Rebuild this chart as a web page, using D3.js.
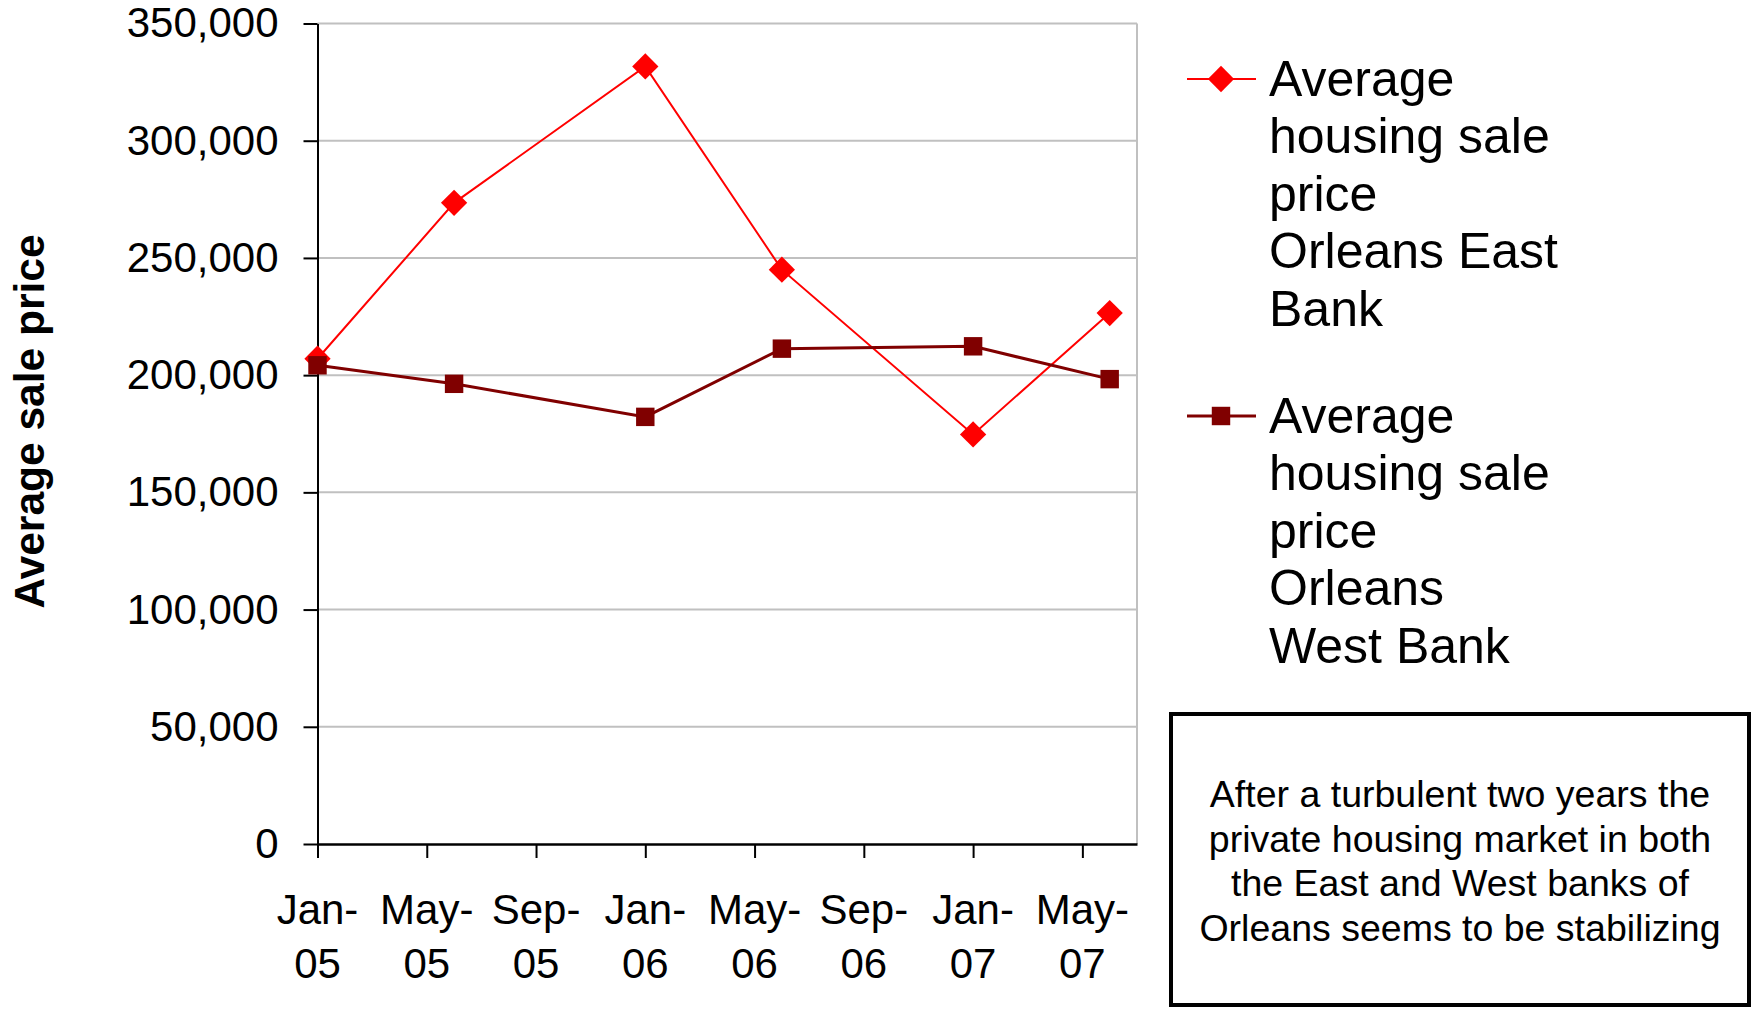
<!DOCTYPE html>
<html>
<head>
<meta charset="utf-8">
<script src="https://cdn.jsdelivr.net/npm/d3@7"></script>
<style>
  body { margin: 0; background: #fff; }
  text { font-family: "Liberation Sans", Arial, sans-serif; fill: #000; }
</style>
</head>
<body>
<div id="dataviz"></div>
<script>
// data
const dates = ["2005-01", "2005-06", "2006-01", "2006-06", "2007-01", "2007-06"];
const eastBank = [207000, 273500, 331700, 245000, 174700, 226500];
const westBank = [204200, 196300, 182200, 211300, 212300, 198300];
const tickDates = ["2005-01", "2005-05", "2005-09", "2006-01", "2006-05", "2006-09", "2007-01", "2007-05"];
const tickLabels = [["Jan-", "05"], ["May-", "05"], ["Sep-", "05"], ["Jan-", "06"], ["May-", "06"], ["Sep-", "06"], ["Jan-", "07"], ["May-", "07"]];
const yTicks = [0, 50000, 100000, 150000, 200000, 250000, 300000, 350000];
const eastLegend = ["Average", "housing sale", "price", "Orleans East", "Bank"];
const westLegend = ["Average", "housing sale", "price", "Orleans", "West Bank"];
const noteLines = ["After a turbulent two years the", "private housing market in both", "the East and West banks of", "Orleans seems to be stabilizing"];

// months since Jan 2005 (excel date axis, month base unit)
const monthIndex = s => (+s.slice(0, 4) - 2005) * 12 + (+s.slice(5, 7) - 1);

const margin = {top: 23.5, right: 616, bottom: 165, left: 317.5},
    width = 1753 - margin.left - margin.right,
    height = 1009 - margin.top - margin.bottom;

let root = d3.select("#dataviz")
    .append("svg")
    .attr("width", 1753)
    .attr("height", 1009);

let svg = root.append("g")
    .attr("transform", `translate(${margin.left}, ${margin.top})`);

const xScale = d3.scaleLinear()
  .domain([0, 30])
  .range([0, width]);

const yScale = d3.scaleLinear()
  .domain([0, 350000])
  .range([height, 0]);

// gridlines + right border of plot area
svg.selectAll(".grid")
  .data(yTicks.filter(d => d > 0))
  .join("line")
  .attr("x1", 0).attr("x2", width)
  .attr("y1", d => yScale(d)).attr("y2", d => yScale(d))
  .attr("stroke", "#c0c0c0").attr("stroke-width", 2);

svg.append("line")
  .attr("x1", width).attr("x2", width)
  .attr("y1", 0).attr("y2", height)
  .attr("stroke", "#c0c0c0").attr("stroke-width", 2);

// y axis
let yAxis = svg.append("g")
  .call(d3.axisLeft(yScale).tickValues(yTicks).tickFormat(d3.format(",")).tickSize(14).tickSizeOuter(0).tickPadding(25));
yAxis.select(".domain").attr("stroke", "#000").attr("stroke-width", 2);
yAxis.selectAll(".tick line").attr("stroke", "#000").attr("stroke-width", 2);
yAxis.selectAll(".tick text").attr("font-size", 42).attr("font-family", "Liberation Sans, Arial, sans-serif");

// x axis
let xAxis = svg.append("g")
  .attr("transform", `translate(0,${height})`)
  .call(d3.axisBottom(xScale).tickValues(tickDates.map(monthIndex)).tickFormat("").tickSize(14).tickSizeOuter(0));
xAxis.select(".domain").attr("stroke", "#000").attr("stroke-width", 2.5);
xAxis.selectAll(".tick line").attr("stroke", "#000").attr("stroke-width", 2);

let xLabels = svg.append("g")
  .selectAll("text")
  .data(tickDates)
  .join("text")
  .attr("x", d => xScale(monthIndex(d)))
  .attr("y", height + 80)
  .attr("text-anchor", "middle")
  .attr("font-size", 42);
xLabels.append("tspan").text((d, i) => tickLabels[i][0]);
xLabels.append("tspan")
  .attr("x", d => xScale(monthIndex(d)))
  .attr("dy", 54)
  .text((d, i) => tickLabels[i][1]);

// y axis title
root.append("text")
  .attr("transform", `translate(44, ${margin.top + 398}) rotate(-90)`)
  .attr("text-anchor", "middle")
  .attr("font-size", 42.5)
  .attr("font-weight", "bold")
  .text("Average sale price");

// series
const series = [
  {values: eastBank, color: "#ff0000", width: 2, shape: d3.symbolDiamond2, size: 440, legend: eastLegend},
  {values: westBank, color: "#800000", width: 3, shape: d3.symbolSquare, size: 340, legend: westLegend}
];

const line = d3.line()
  .x((d, i) => xScale(monthIndex(dates[i])))
  .y(d => yScale(d));

series.forEach(s => {
  svg.append("path")
    .datum(s.values)
    .attr("d", line)
    .attr("fill", "none")
    .attr("stroke", s.color)
    .attr("stroke-width", s.width);

  svg.append("g")
    .selectAll("path")
    .data(s.values)
    .join("path")
    .attr("transform", (d, i) => `translate(${xScale(monthIndex(dates[i]))},${yScale(d)})`)
    .attr("d", d3.symbol().type(s.shape).size(s.size))
    .attr("fill", s.color);
});

// legend
series.forEach((s, k) => {
  const y0 = 79 + k * 337;
  let g = root.append("g");
  g.append("line")
    .attr("x1", 1187).attr("x2", 1256)
    .attr("y1", y0).attr("y2", y0)
    .attr("stroke", s.color).attr("stroke-width", s.width);
  g.append("path")
    .attr("transform", `translate(1221,${y0})`)
    .attr("d", d3.symbol().type(s.shape).size(s.size))
    .attr("fill", s.color);
  g.selectAll("text")
    .data(s.legend)
    .join("text")
    .attr("x", 1269)
    .attr("y", (d, i) => y0 + 17 + i * 57.4)
    .attr("font-size", 50)
    .text(d => d);
});

// note box
root.append("rect")
  .attr("x", 1171).attr("y", 714)
  .attr("width", 578).attr("height", 291)
  .attr("fill", "#fff")
  .attr("stroke", "#000")
  .attr("stroke-width", 4);

root.append("g")
  .selectAll("text")
  .data(noteLines)
  .join("text")
  .attr("x", 1460)
  .attr("y", (d, i) => 807 + i * 44.7)
  .attr("text-anchor", "middle")
  .attr("font-size", 37.5)
  .text(d => d);
</script>
</body>
</html>
